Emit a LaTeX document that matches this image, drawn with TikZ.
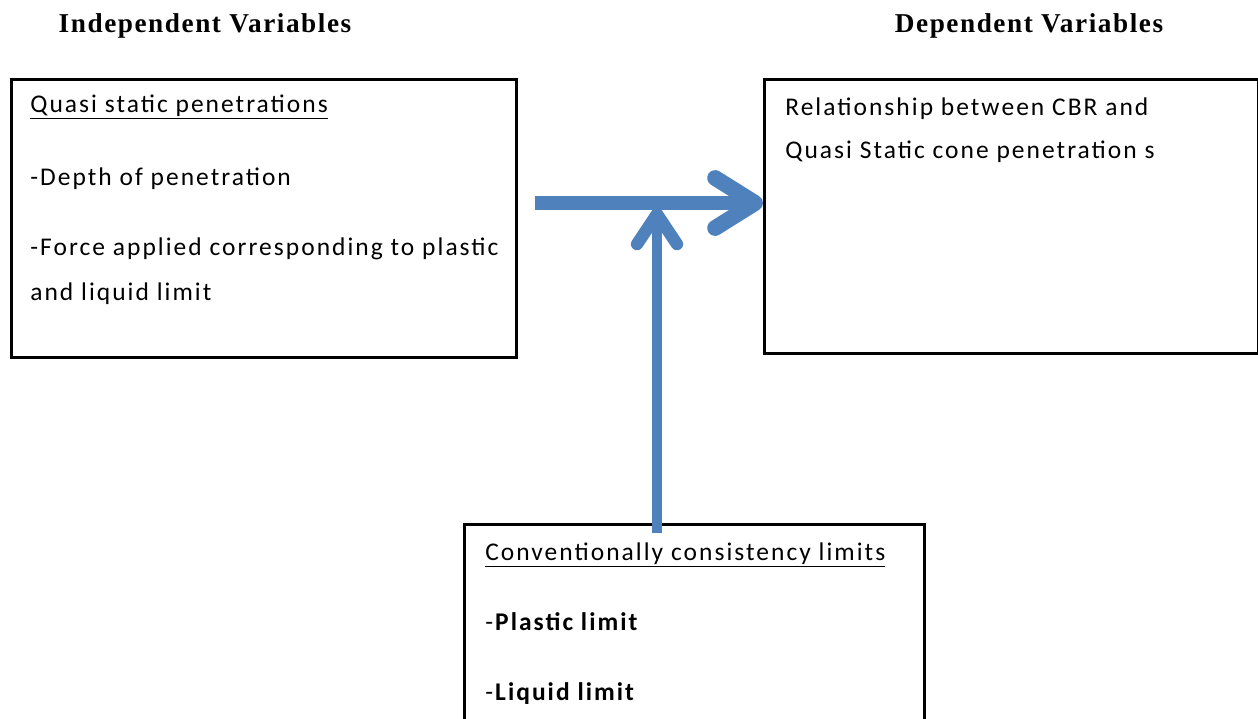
\documentclass[tikz,border=0pt]{standalone}
\usepackage{fontspec}
\setmainfont{Carlito}[LetterSpace=8]
\newfontfamily\titrefont{Liberation Serif}[LetterSpace=5.7]
\usetikzlibrary{arrows.meta}
\definecolor{bleu}{RGB}{79,129,189}

\begin{document}
\begin{tikzpicture}[x=0.02cm,y=-0.02cm,
    boite/.style={draw, line width=1.6pt, rectangle, inner sep=0pt, anchor=north west},
    texte/.style={anchor=base west, inner sep=0pt, font=\fontsize{14.5}{17}\selectfont},
    titre/.style={anchor=base, inner sep=0pt, font=\fontsize{15.5}{18}\titrefont\bfseries},
    fleche/.style={draw=bleu, -{Straight Barb[round, length=0.8cm, width=1.0cm, line width=9pt]}}]
    % Cadre
    \useasboundingbox (0,0) rectangle (1258,718) ;
    \clip (0,0) rectangle (1258,718) ;
    % Titres
    \node[titre] (tindep) at (205,32) {Independent Variables} ;
    \node[titre] (tdep) at (1029,32) {Dependent Variables} ;
    % Boites
    \node[boite, minimum width=10.1cm, minimum height=5.56cm] (gauche) at (10,78) {} ;
    \node[boite, minimum width=9.88cm, minimum height=5.48cm] (droite) at (763,78) {} ;
    \node[boite, minimum width=9.2cm, minimum height=4.8cm] (bas) at (463,523) {} ;
    % Textes
    \node[texte] (qsp) at (30,112) {\underline{Quasi static penetrations}} ;
    \node[texte] (depth) at (30,185) {-Depth of penetration} ;
    \node[texte] (force) at (30,255) {-Force applied corresponding to plastic} ;
    \node[texte] (force2) at (30,300) {and liquid limit} ;
    \node[texte] (rel) at (785,115) {Relationship between CBR and} ;
    \node[texte] (rel2) at (785,158) {Quasi Static cone penetration s} ;
    \node[texte] (ccl) at (485,560) {\underline{Conventionally consistency limits}} ;
    \node[texte] (pl) at (485,630) {-\textbf{Plastic limit}} ;
    \node[texte] (ll) at (485,700) {-\textbf{Liquid limit}} ;
    % Fleches
    \coordinate (jonction) at (657,203) ;
    \draw[fleche, line width=7.6pt] ([xshift=0.34cm]gauche.east |- jonction) -- (droite.west |- jonction) ;
    \draw[fleche, line width=5.6pt, -{Straight Barb[round, length=0.6cm, width=0.8cm, line width=7pt]}]
        ([yshift=-0.2cm]bas.north -| jonction) -- ([yshift=-0.1cm]jonction) ;
\end{tikzpicture}
\end{document}
